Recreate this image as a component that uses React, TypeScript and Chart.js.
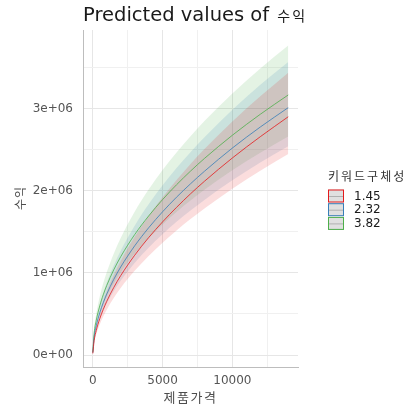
import { useEffect, useRef } from "react";
import { Chart, registerables } from "chart.js";

Chart.register(...registerables);

// ---- data ----
const prices = [2, 100, 250, 500, 750, 1000, 1500, 2000, 3000, 4000, 5000, 6000, 7000, 8000, 10000, 12000, 14000];
const groups = ["1.45", "2.32", "3.82"];

const fit145 = [19500, 177900, 298500, 441700, 555300, 653600, 821600, 967200, 1215000, 1430000, 1622000, 1799000, 1964000, 2117000, 2401000, 2660000, 2903000];
const hi145 = [23100, 210800, 353700, 523400, 658000, 774500, 973600, 1146100, 1439800, 1694600, 1922100, 2131800, 2327300, 2508600, 2845200, 3152100, 3440100];
const lo145 = [16500, 150100, 251900, 372800, 468600, 551600, 693400, 816200, 1025300, 1206800, 1368800, 1518200, 1657400, 1786500, 2026200, 2244800, 2449800];

const fit232 = [27400, 218500, 355400, 513600, 636900, 742300, 920400, 1072300, 1329600, 1549700, 1745000, 1923000, 2086000, 2239000, 2522000, 2778000, 3014000];
const hi232 = [32500, 258900, 421100, 608600, 754700, 879600, 1090700, 1270700, 1575600, 1836400, 2067800, 2278800, 2471900, 2653200, 2988600, 3291900, 3571600];
const lo232 = [23100, 184400, 299900, 433400, 537500, 626400, 776700, 904900, 1122000, 1307800, 1472600, 1622800, 1760400, 1889500, 2128300, 2344300, 2543500];

const fit382 = [37900, 267800, 423400, 598800, 733500, 846800, 1037200, 1197600, 1466700, 1693800, 1893600, 2074400, 2240700, 2395200, 2678000, 2933500, 3168600];
const hi382 = [45100, 318700, 503800, 712600, 872900, 1007700, 1234300, 1425100, 1745400, 2015600, 2253400, 2468500, 2666400, 2850300, 3186800, 3490900, 3770600];
const lo382 = [31800, 225000, 355800, 503200, 616400, 711600, 871600, 1006400, 1232500, 1423300, 1591200, 1743200, 1882900, 2012700, 2250400, 2465100, 2662600];

const xTickValues = [0, 2500, 5000, 7500, 10000, 12500];
const xTickLabels = ["0", "", "5000", "", "10000", ""];
const yTickValues = [0, 500000, 1000000, 1500000, 2000000, 2500000, 3000000, 3500000];
const yTickLabels = ["0e+00", "", "1e+06", "", "2e+06", "", "3e+06", ""];

const titleMain = "Predicted values of ";
const titleVar = "수익";
const xTitle = "제품가격";
const yTitle = "수익";
const legendTitle = "키워드구체성";

const colors = ["#E41A1C", "#377EB8", "#4DAF4A"];
const fills = ["rgba(228,26,28,0.15)", "rgba(55,126,184,0.15)", "rgba(77,175,74,0.15)"];

const pts = (ys: number[]) => prices.map((x, i) => ({ x, y: ys[i] }));

const textPlugin = {
  id: "textPlugin",
  afterDraw(chart: any) {
    const ctx = chart.ctx as CanvasRenderingContext2D;
    const area = chart.chartArea;
    ctx.save();
    // title
    ctx.textBaseline = "alphabetic";
    ctx.textAlign = "left";
    ctx.fillStyle = "#1a1a1a";
    ctx.font = '19.5px "DejaVu Sans"';
    ctx.fillText(titleMain, area.left, 21);
    const w = ctx.measureText(titleMain).width;
    ctx.font = '14px "Noto Sans CJK KR"';
    (ctx as any).letterSpacing = "2px";
    ctx.fillText(titleVar, area.left + w + 2, 21);

    // x title
    ctx.fillStyle = "#4d4d4d";
    ctx.textAlign = "center";
    ctx.textBaseline = "middle";
    ctx.font = '13px "Noto Sans CJK KR"';
    (ctx as any).letterSpacing = "1.5px";
    ctx.fillText(xTitle, (area.left + area.right) / 2, 397);

    // y title
    ctx.save();
    ctx.translate(20, 198);
    ctx.rotate(-Math.PI / 2);
    ctx.font = '12px "Noto Sans CJK KR"';
    (ctx as any).letterSpacing = "1px";
    ctx.fillText(yTitle, 0, 0);
    ctx.restore();

    // legend
    const lx = 328;
    ctx.textAlign = "left";
    ctx.textBaseline = "middle";
    ctx.fillStyle = "#333333";
    ctx.font = '12px "Noto Sans CJK KR"';
    (ctx as any).letterSpacing = "2px";
    ctx.fillText(legendTitle, lx, 176);
    (ctx as any).letterSpacing = "0px";
    groups.forEach((g, i) => {
      const y0 = 189.5 + i * 13.7;
      ctx.fillStyle = "#e0e0e0";
      ctx.fillRect(lx, y0, 16, 13);
      ctx.strokeStyle = colors[i];
      ctx.lineWidth = 1;
      ctx.strokeRect(lx + 0.5, y0 + 0.5, 15, 12);
      ctx.strokeStyle = "#b0b0b0";
      ctx.beginPath();
      ctx.moveTo(lx + 1, y0 + 7);
      ctx.lineTo(lx + 15, y0 + 7);
      ctx.stroke();
      ctx.fillStyle = "#1a1a1a";
      ctx.font = '12px "DejaVu Sans"';
      ctx.fillText(g, 354, y0 + 7);
    });
    ctx.restore();
  },
};

export default function App() {
  const ref = useRef<HTMLCanvasElement>(null);

  useEffect(() => {
    if (!ref.current) return;
    const fits = [fit145, fit232, fit382];
    const his = [hi145, hi232, hi382];
    const los = [lo145, lo232, lo382];
    const datasets: any[] = [];
    groups.forEach((g, i) => {
      datasets.push({
        label: g,
        data: pts(fits[i]),
        borderColor: colors[i],
        borderWidth: 0.8,
        pointRadius: 0,
        fill: false,
        cubicInterpolationMode: "monotone",
        order: 0,
      });
    });
    groups.forEach((g, i) => {
      datasets.push({
        label: g + " hi",
        data: pts(his[i]),
        borderWidth: 0,
        borderColor: "rgba(0,0,0,0)",
        backgroundColor: fills[i],
        pointRadius: 0,
        fill: "+1",
        cubicInterpolationMode: "monotone",
        order: 1,
      });
      datasets.push({
        label: g + " lo",
        data: pts(los[i]),
        borderWidth: 0,
        borderColor: "rgba(0,0,0,0)",
        backgroundColor: "rgba(0,0,0,0)",
        pointRadius: 0,
        fill: false,
        cubicInterpolationMode: "monotone",
        order: 1,
      });
    });

    const chart = new Chart(ref.current, {
      type: "line",
      data: { datasets },
      plugins: [textPlugin],
      options: {
        animation: false,
        responsive: false,
        events: [],
        layout: { padding: { top: 30, right: 120, bottom: 0, left: 0 } },
        plugins: {
          legend: { display: false },
          title: { display: false },
          tooltip: { enabled: false },
        },
        scales: {
          x: {
            type: "linear",
            min: -700,
            max: 14700,
            afterBuildTicks: (s: any) => {
              s.ticks = xTickValues.map((v) => ({ value: v }));
            },
            afterFit: (s: any) => {
              s.height = 40;
            },
            grid: {
              color: (c: any) => (c.tick && c.tick.value % 5000 === 0 ? "#e6e6e6" : "#f0f0f0"),
              drawTicks: false,
              lineWidth: 1,
            },
            border: { display: true, color: "#bdbdbd", width: 1 },
            ticks: {
              autoSkip: false,
              maxRotation: 0,
              padding: 7,
              color: "#555555",
              font: { family: '"DejaVu Sans"', size: 12 },
              callback: (_v: any, i: number) => xTickLabels[i],
            },
          },
          y: {
            type: "linear",
            min: -146000,
            max: 3960000,
            afterBuildTicks: (s: any) => {
              s.ticks = yTickValues.map((v) => ({ value: v }));
            },
            afterFit: (s: any) => {
              s.width = 83;
            },
            grid: {
              color: (c: any) => (c.tick && c.tick.value % 1000000 === 0 ? "#e6e6e6" : "#f0f0f0"),
              drawTicks: false,
              lineWidth: 1,
            },
            border: { display: true, color: "#bdbdbd", width: 1 },
            ticks: {
              autoSkip: false,
              padding: 10,
              color: "#555555",
              font: { family: '"DejaVu Sans"', size: 12 },
              callback: (_v: any, i: number) => yTickLabels[i],
            },
          },
        },
      },
    });
    return () => chart.destroy();
  }, []);

  return (
    <div style={{ position: "fixed", left: 0, top: 0, width: 418, height: 407, background: "#fff" }}>
      <canvas ref={ref} width={418} height={407} style={{ display: "block", width: 418, height: 407 }} />
    </div>
  );
}
